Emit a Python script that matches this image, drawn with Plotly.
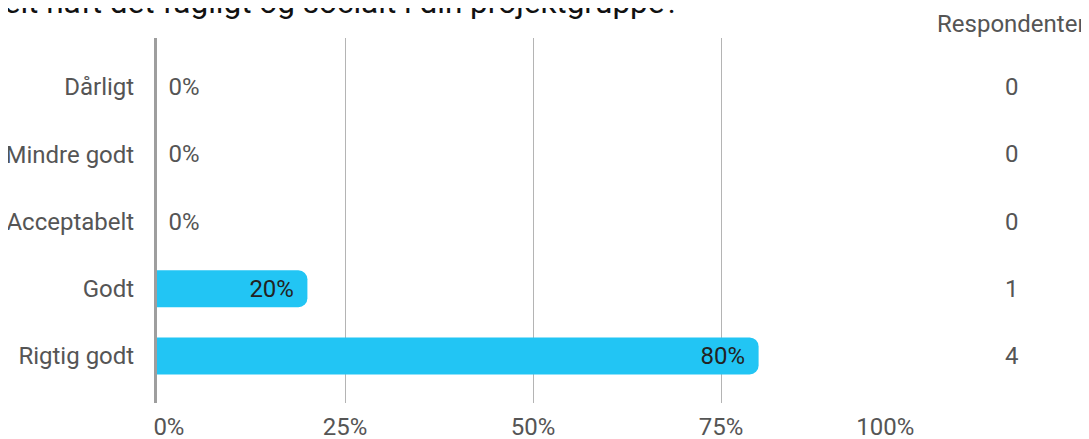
import plotly.graph_objects as go

title_text = "Hvordan har du generelt haft det fagligt og socialt i din projektgruppe?"
categories = ["Dårligt", "Mindre godt", "Acceptabelt", "Godt", "Rigtig godt"]
shares = [0.0, 0.0, 0.0, 0.20, 0.80]
respondents = [0, 0, 0, 1, 4]
tick_vals = [0, 0.25, 0.5, 0.75, 1.0]
tick_text = ["0%", "25%", "50%", "75%", "100%"]

NB = "\u00a0"
HS = "\u200a"
FONT = "Roboto"
GREY = "#555555"
FS = 24

# page body has an 8px margin: figure is drawn 8px smaller and shifted
OFF = 8
W, H = 1089 - OFF, 439 - OFF
L, T = 157 - OFF, 38 - OFF
PW, PH = 752, 365
R, B = W - L - PW, H - T - PH


def px_x(xw):
    return (xw - OFF - L) / PW


bar_text = [(NB + HS + f"{v:.0%}") if v == 0 else (f"{v:.0%}" + NB + HS) for v in shares]
text_pos = ["outside" if v == 0 else "inside" for v in shares]
tick_labels = [NB * 4 + tick_text[0]] + tick_text[1:-1] + [tick_text[-1] + NB * 8]

fig = go.Figure()
fig.add_trace(go.Bar(
    x=shares,
    y=categories,
    orientation="h",
    width=0.55,
    marker=dict(color="#22c5f4", line=dict(width=0)),
    text=bar_text,
    textposition=text_pos,
    insidetextanchor="end",
    insidetextfont=dict(family=FONT, size=FS, color="#222222"),
    outsidetextfont=dict(family=FONT, size=FS, color=GREY),
    cliponaxis=False,
    hoverinfo="skip",
))

annotations = [
    dict(text=title_text, xref="paper", yref="paper", x=px_x(681), y=1,
         xanchor="right", yanchor="middle", yshift=T + OFF - 2, showarrow=False,
         font=dict(family=FONT, size=31.5, color="#111111")),
    dict(text="Respondenter", xref="paper", yref="paper", x=px_x(1011), y=1,
         xanchor="center", yanchor="middle", yshift=T + OFF - 24, showarrow=False,
         font=dict(family=FONT, size=FS, color=GREY)),
]
for c, n in zip(categories, respondents):
    annotations.append(dict(text=str(n), xref="paper", yref="y", x=px_x(1012), y=c,
                            xanchor="center", yanchor="middle", showarrow=False,
                            font=dict(family=FONT, size=FS, color=GREY)))

fig.update_layout(
    width=W, height=H,
    margin=dict(l=L, r=R, t=T, b=B, autoexpand=False),
    paper_bgcolor="white", plot_bgcolor="white",
    barcornerradius=9,
    showlegend=False,
    font=dict(family=FONT, size=FS, color=GREY),
    annotations=annotations,
    xaxis=dict(
        range=[0, 1], tickvals=tick_vals, ticktext=tick_labels,
        showgrid=True, gridcolor="#b4b4b4", gridwidth=1,
        zeroline=False, showline=False, ticks="",
        ticklabelstandoff=7, automargin=False,
        tickfont=dict(family=FONT, size=FS, color=GREY),
        fixedrange=True,
    ),
    yaxis=dict(
        type="category", categoryorder="array", categoryarray=categories,
        range=[4.7, -0.73],
        showgrid=False, zeroline=False,
        showline=True, linecolor="#9e9e9e", linewidth=3,
        ticks="", ticklabelstandoff=15, automargin=False,
        tickfont=dict(family=FONT, size=FS, color=GREY),
        fixedrange=True,
    ),
)

fig.write_html("out.html")
